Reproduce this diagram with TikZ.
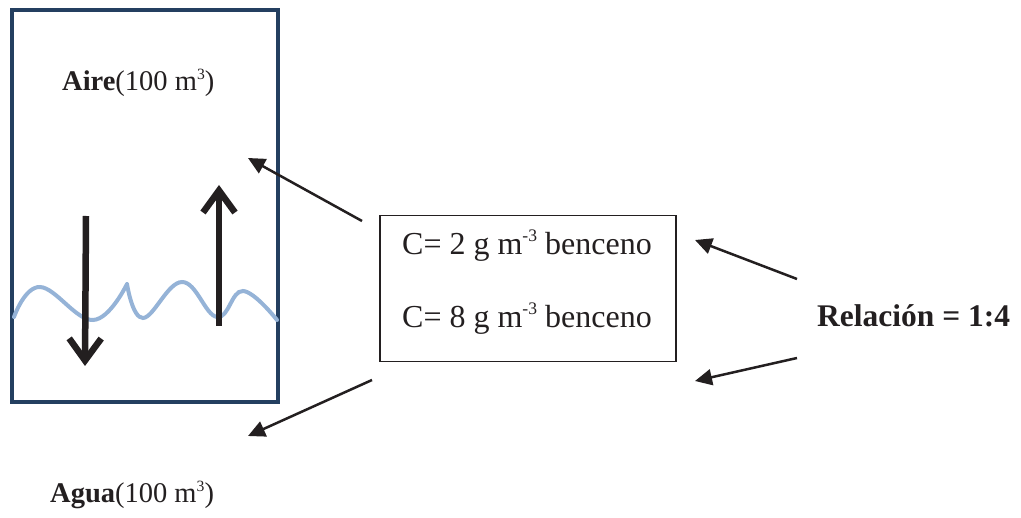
\documentclass[tikz,border=0pt]{standalone}
\usepackage{fontspec}
\setmainfont{Liberation Serif}
\usetikzlibrary{arrows.meta}
\definecolor{frame}{RGB}{36,63,96}
\definecolor{wave}{RGB}{149,179,215}
\definecolor{ink}{RGB}{35,31,32}
\newcommand\mysup[1]{\raisebox{0.42em}{\fontsize{0.55em}{0.6em}\selectfont #1}}
\tikzset{
  lbl/.style={anchor=base west, inner sep=0pt, font=\fontsize{28.5}{34}\selectfont, text=ink},
  boxtxt/.style={anchor=base west, inner sep=0pt, font=\fontsize{32}{38}\selectfont, text=ink},
  thickarrow/.style={draw=ink, line width=6.5pt, -{Straight Barb[length=22pt, width=32pt, line width=6.5pt]}},
  thinarrow/.style={draw=ink, line width=2.5pt, -{Triangle[length=17pt, width=16pt]}},
}
\begin{document}
\begin{tikzpicture}[x=1pt, y=-1pt]
\useasboundingbox (0,0) rectangle (1021,518);
% frame
\node[draw=frame, line width=4pt, minimum width=266pt, minimum height=392pt, inner sep=0pt] (frame) at (145,206) {};
% wave
\draw[wave, line width=4pt, line cap=round] plot[smooth, tension=0.7] coordinates {(14,317) (40,287) (93,320) (127,284)}
  plot[smooth, tension=0.7] coordinates {(127,284) (143,318) (182,282) (217,317) (243,291) (277,320)};
% vertical arrows
\coordinate (d1) at (86,216); \coordinate (d2) at (85,366);
\coordinate (u1) at (219,326); \coordinate (u2) at (219,185);
\draw[thickarrow] (d1) -- (d2);
\draw[thickarrow] (u1) -- (u2);
% labels
\node[lbl] (aire) at (62,91) {\textbf{Aire}(100 m\mysup{3})};
\node[lbl] (agua) at (50,503) {\textbf{Agua}(100 m\mysup{3})};
% centre box
\node[draw=ink, line width=1.8pt, minimum width=296pt, minimum height=146pt, inner sep=0pt] (box) at (528,288.5) {};
\node[boxtxt] (c1) at (402,255) {C= 2 g m\mysup{-3} benceno};
\node[boxtxt] (c2) at (402,328) {C= 8 g m\mysup{-3} benceno};
\node[boxtxt, font=\fontsize{31.5}{38}\selectfont\bfseries] (rel) at (817,327) {Relación = 1:4};
% thin arrows
\coordinate (a1s) at (362,221); \coordinate (a1e) at (248,158);
\coordinate (a2s) at (372,380); \coordinate (a2e) at (248,436);
\coordinate (a3s) at (797,279); \coordinate (a3e) at (695,240);
\coordinate (a4s) at (797,358); \coordinate (a4e) at (695,381);
\draw[thinarrow] (a1s) -- (a1e);
\draw[thinarrow] (a2s) -- (a2e);
\draw[thinarrow] (a3s) -- (a3e);
\draw[thinarrow] (a4s) -- (a4e);
\end{tikzpicture}
\end{document}
